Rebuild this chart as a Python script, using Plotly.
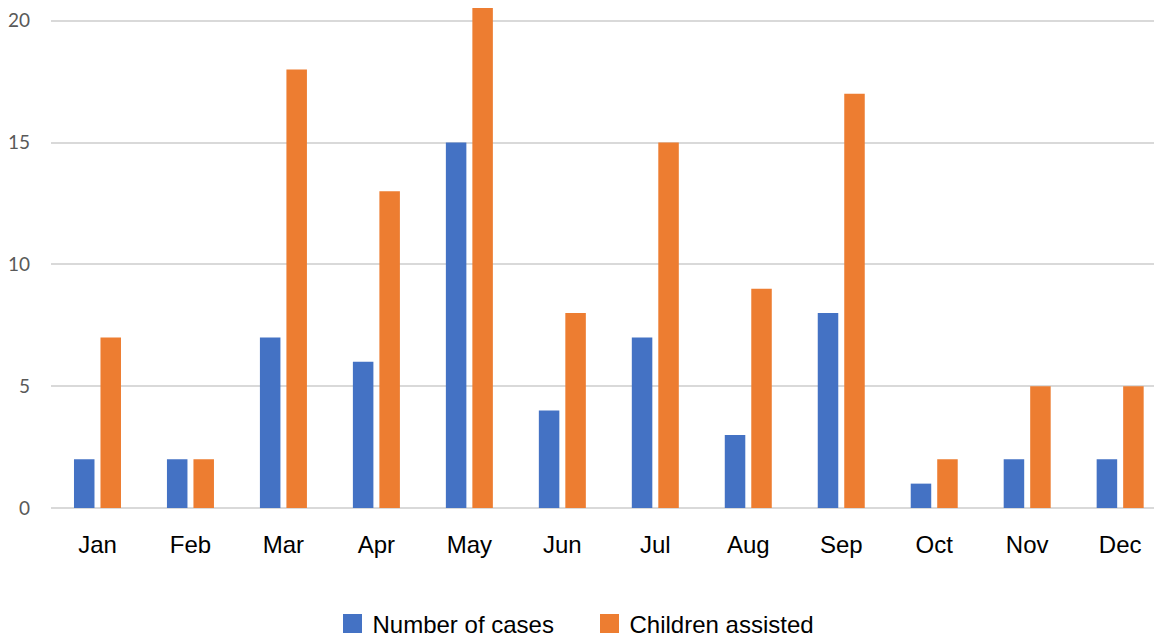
import plotly.graph_objects as go

months = ["Jan", "Feb", "Mar", "Apr", "May", "Jun", "Jul", "Aug", "Sep", "Oct", "Nov", "Dec"]
number_of_cases = [2, 2, 7, 6, 15, 4, 7, 3, 8, 1, 2, 2]
children_assisted = [7, 2, 18, 13, 21, 8, 15, 9, 17, 2, 5, 5]
y_ticks = [0, 5, 10, 15, 20]

BLUE = "#4472C4"
ORANGE = "#ED7D31"

fig = go.Figure()
fig.add_trace(go.Bar(x=months, y=number_of_cases, name="Number of cases",
                     marker=dict(color=BLUE, line=dict(width=0)), showlegend=False))
fig.add_trace(go.Bar(x=months, y=children_assisted, name="Children assisted",
                     marker=dict(color=ORANGE, line=dict(width=0)), showlegend=False))
# legend entries (square swatches)
for name, col in [("Number of cases", BLUE), ("Children assisted", ORANGE)]:
    fig.add_trace(go.Scatter(x=[months[0]], y=[None], mode="markers", name=name,
                             marker=dict(symbol="square", size=19, color=col,
                                         line=dict(width=3, color=col)),
                             showlegend=True, hoverinfo="skip"))

fig.update_layout(
    width=1154, height=631,
    margin=dict(l=43, r=0, t=0, b=131),
    paper_bgcolor="white", plot_bgcolor="white",
    barmode="group", bargap=0.43, bargroupgap=0.226,
    font=dict(family="Liberation Sans, Arial, sans-serif", color="#000000"),
    showlegend=True,
    legend=dict(orientation="h", x=0.4847, xanchor="center",
                yref="container", y=0.024, yanchor="middle",
                font=dict(size=24, color="#000000"), itemwidth=30, entrywidth=212,
                bgcolor="rgba(0,0,0,0)"),
    xaxis=dict(range=[-0.5, 11.45], showgrid=False, showline=False, zeroline=False,
               ticks="", tickfont=dict(size=24, color="#000000"), ticklabelstandoff=20,
               fixedrange=True, automargin=False),
    yaxis=dict(range=[0, 20.52], tickvals=y_ticks, showgrid=True, gridcolor="#D9D9D9",
               gridwidth=1.5, zeroline=True, zerolinecolor="#D9D9D9", zerolinewidth=1.5,
               showline=False, ticks="", ticklabelstandoff=20, automargin=False,
               tickfont=dict(family="Lato, Open Sans, sans-serif", size=19, color="#595959")),
)

fig.write_html("out.html")
